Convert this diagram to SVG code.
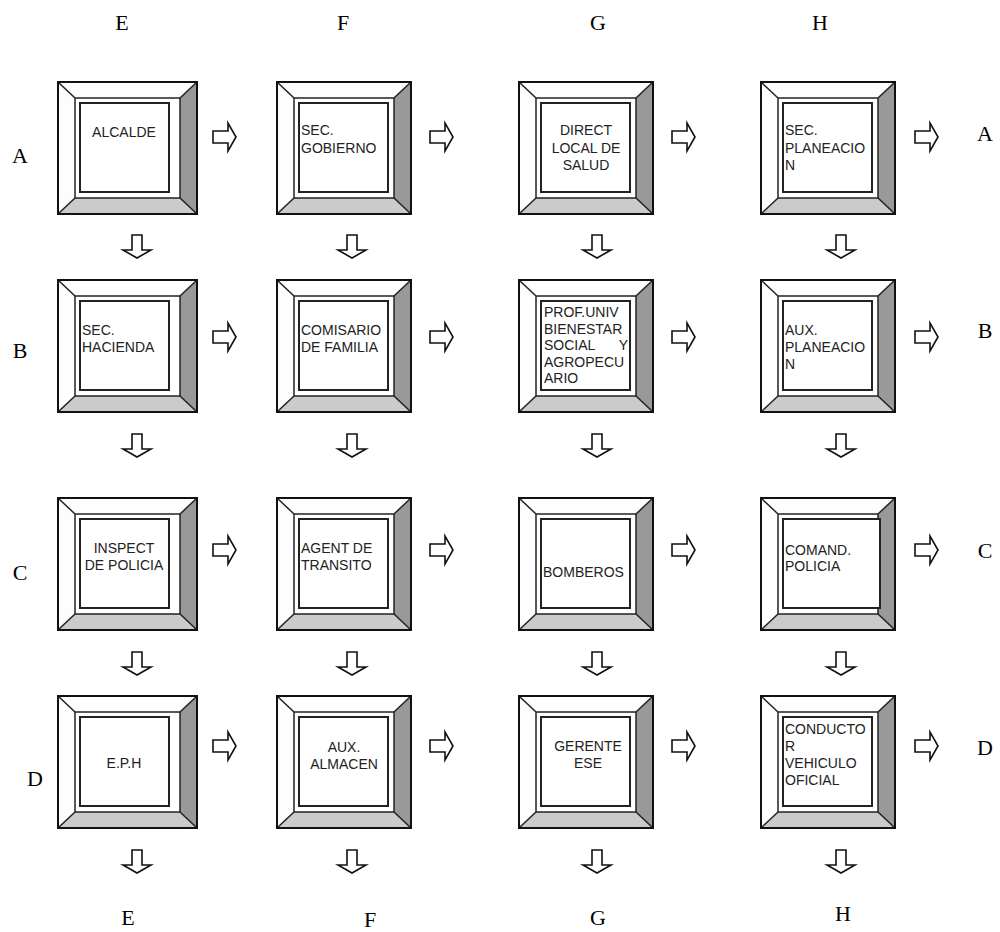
<svg xmlns="http://www.w3.org/2000/svg" xmlns:xlink="http://www.w3.org/1999/xlink" width="1000" height="932" viewBox="0 0 1000 932">
<style>
.lbl{font-family:"Liberation Serif","Times New Roman",serif;font-size:22px;fill:#000}
.t{font-family:"Liberation Sans",Arial,sans-serif;font-size:14px;fill:#222}
.c{text-anchor:middle}
.e{text-anchor:end}
.ln{stroke:#222;stroke-width:1.5;fill:none}
.ar{fill:#fff;stroke:#111;stroke-width:1.6;stroke-linejoin:miter}
.lt{fill:#fdfdfd}
.dk{fill:#999}
.md{fill:#cbcbcb}
.ol{fill:none;stroke:#111;stroke-width:2}
.in{fill:#fff;stroke:#222;stroke-width:2}
</style>
<defs>
<g id="bevel">
<rect x="0" y="0" width="134" height="132" fill="#fff"/>
<polygon points="0,0 134,0 117,16 17,16" class="lt"/>
<polygon points="0,0 17,16 17,116 0,132" class="lt"/>
<polygon points="134,0 134,132 117,116 117,16" class="dk"/>
<polygon points="0,132 17,116 117,116 134,132" class="md"/>
<line x1="0" y1="0" x2="17" y2="16" class="ln"/>
<line x1="134" y1="0" x2="117" y2="16" class="ln"/>
<line x1="0" y1="132" x2="17" y2="116" class="ln"/>
<line x1="134" y1="132" x2="117" y2="116" class="ln"/>
<rect x="17" y="16" width="100" height="100" class="ln"/>
<rect x="0" y="0" width="134" height="132" class="ol"/>
</g>
<g id="btn">
<use xlink:href="#bevel"/>
<rect x="22" y="21" width="89" height="89" class="in"/>
</g>
<g id="btnW">
<rect x="0" y="0" width="139" height="132" fill="#fff"/>
<polygon points="0,0 139,0 122,16 17,16" class="lt"/>
<polygon points="0,0 17,16 17,116 0,132" class="lt"/>
<polygon points="139,0 139,132 122,116 122,16" class="dk"/>
<polygon points="0,132 17,116 122,116 139,132" class="md"/>
<line x1="0" y1="0" x2="17" y2="16" class="ln"/>
<line x1="139" y1="0" x2="122" y2="16" class="ln"/>
<line x1="0" y1="132" x2="17" y2="116" class="ln"/>
<line x1="139" y1="132" x2="122" y2="116" class="ln"/>
<rect x="17" y="16" width="105" height="100" class="ln"/>
<rect x="0" y="0" width="139" height="132" class="ol"/>
<rect x="22" y="21" width="89" height="89" class="in"/>
</g>
<path id="ra" d="M0,-6 H15 V-14 L23,0 L15,14 V6 H0 Z" class="ar"/>
<path id="da" d="M-5,0 V15 H-14 L0,23 L14,15 H5 V0 Z" class="ar"/>
</defs>

<g id="labels">
<text class="lbl c" x="122" y="30">E</text>
<text class="lbl c" x="343" y="30">F</text>
<text class="lbl c" x="598" y="30">G</text>
<text class="lbl c" x="820" y="30">H</text>
<text class="lbl c" x="128" y="925">E</text>
<text class="lbl c" x="370" y="927">F</text>
<text class="lbl c" x="598" y="925">G</text>
<text class="lbl c" x="843" y="921">H</text>
<text class="lbl c" x="20" y="163">A</text>
<text class="lbl c" x="20" y="358">B</text>
<text class="lbl c" x="20" y="580">C</text>
<text class="lbl c" x="35" y="786">D</text>
<text class="lbl c" x="985" y="141">A</text>
<text class="lbl c" x="985" y="338">B</text>
<text class="lbl c" x="985" y="558">C</text>
<text class="lbl c" x="985" y="755">D</text>
</g>

<g id="connectors">
<use xlink:href="#ra" x="213" y="137"/>
<use xlink:href="#ra" x="430" y="137"/>
<use xlink:href="#ra" x="672" y="137"/>
<use xlink:href="#ra" x="915" y="137"/>
<use xlink:href="#ra" x="213" y="337"/>
<use xlink:href="#ra" x="430" y="337"/>
<use xlink:href="#ra" x="672" y="337"/>
<use xlink:href="#ra" x="915" y="337"/>
<use xlink:href="#ra" x="213" y="550"/>
<use xlink:href="#ra" x="430" y="550"/>
<use xlink:href="#ra" x="672" y="550"/>
<use xlink:href="#ra" x="915" y="550"/>
<use xlink:href="#ra" x="213" y="746"/>
<use xlink:href="#ra" x="430" y="746"/>
<use xlink:href="#ra" x="672" y="746"/>
<use xlink:href="#ra" x="915" y="746"/>
<use xlink:href="#da" x="137" y="235"/>
<use xlink:href="#da" x="352" y="235"/>
<use xlink:href="#da" x="597" y="235"/>
<use xlink:href="#da" x="841" y="235"/>
<use xlink:href="#da" x="137" y="434"/>
<use xlink:href="#da" x="352" y="434"/>
<use xlink:href="#da" x="597" y="434"/>
<use xlink:href="#da" x="841" y="434"/>
<use xlink:href="#da" x="137" y="652"/>
<use xlink:href="#da" x="352" y="652"/>
<use xlink:href="#da" x="597" y="652"/>
<use xlink:href="#da" x="841" y="652"/>
<use xlink:href="#da" x="137" y="850"/>
<use xlink:href="#da" x="352" y="850"/>
<use xlink:href="#da" x="597" y="850"/>
<use xlink:href="#da" x="841" y="850"/>
</g>

<g id="node-EA"><use xlink:href="#btnW" x="58" y="82"/><text class="t c" x="124" y="137">ALCALDE</text></g>
<g id="node-FA"><use xlink:href="#btn" x="277" y="82"/><text class="t" x="301" y="135">SEC.</text><text class="t" x="301" y="153">GOBIERNO</text></g>
<g id="node-GA"><use xlink:href="#btn" x="519" y="82"/><text class="t c" x="586" y="135">DIRECT</text><text class="t c" x="586" y="153">LOCAL DE</text><text class="t c" x="586" y="170">SALUD</text></g>
<g id="node-HA"><use xlink:href="#btn" x="761" y="82"/><text class="t" x="785" y="135">SEC.</text><text class="t" x="785" y="153">PLANEACIO</text><text class="t" x="785" y="170">N</text></g>

<g id="node-EB"><use xlink:href="#btnW" x="58" y="280"/><text class="t" x="82" y="335">SEC.</text><text class="t" x="82" y="352">HACIENDA</text></g>
<g id="node-FB"><use xlink:href="#btn" x="277" y="280"/><text class="t" x="301" y="335">COMISARIO</text><text class="t" x="301" y="352">DE FAMILIA</text></g>
<g id="node-GB"><use xlink:href="#btn" x="519" y="280"/><text class="t" x="544" y="317">PROF.UNIV</text><text class="t" x="544" y="334">BIENESTAR</text><text class="t" x="544" y="350">SOCIAL</text><text class="t e" x="628" y="350">Y</text><text class="t" x="544" y="367">AGROPECU</text><text class="t" x="544" y="383">ARIO</text></g>
<g id="node-HB"><use xlink:href="#btn" x="761" y="280"/><text class="t" x="785" y="335">AUX.</text><text class="t" x="785" y="352">PLANEACIO</text><text class="t" x="785" y="369">N</text></g>

<g id="node-EC"><use xlink:href="#btnW" x="58" y="498"/><text class="t c" x="124" y="553">INSPECT</text><text class="t c" x="124" y="570">DE POLICIA</text></g>
<g id="node-FC"><use xlink:href="#btn" x="277" y="498"/><text class="t" x="301" y="553">AGENT DE</text><text class="t" x="301" y="570">TRANSITO</text></g>
<g id="node-GC"><use xlink:href="#btn" x="519" y="498"/><text class="t" x="543" y="577">BOMBEROS</text></g>
<g id="node-HC"><use xlink:href="#bevel" x="761" y="498"/><rect x="783" y="519" width="97" height="89" class="in"/><text class="t" x="785" y="555">COMAND.</text><text class="t" x="785" y="571">POLICIA</text></g>

<g id="node-ED"><use xlink:href="#btnW" x="58" y="696"/><text class="t c" x="124" y="768">E.P.H</text></g>
<g id="node-FD"><use xlink:href="#btn" x="277" y="696"/><text class="t c" x="344" y="752">AUX.</text><text class="t c" x="344" y="769">ALMACEN</text></g>
<g id="node-GD"><use xlink:href="#btn" x="519" y="696"/><text class="t c" x="588" y="751">GERENTE</text><text class="t c" x="588" y="768">ESE</text></g>
<g id="node-HD"><use xlink:href="#btn" x="761" y="696"/><text class="t" x="785" y="734">CONDUCTO</text><text class="t" x="785" y="751">R</text><text class="t" x="785" y="768">VEHICULO</text><text class="t" x="785" y="785">OFICIAL</text></g>
</svg>
